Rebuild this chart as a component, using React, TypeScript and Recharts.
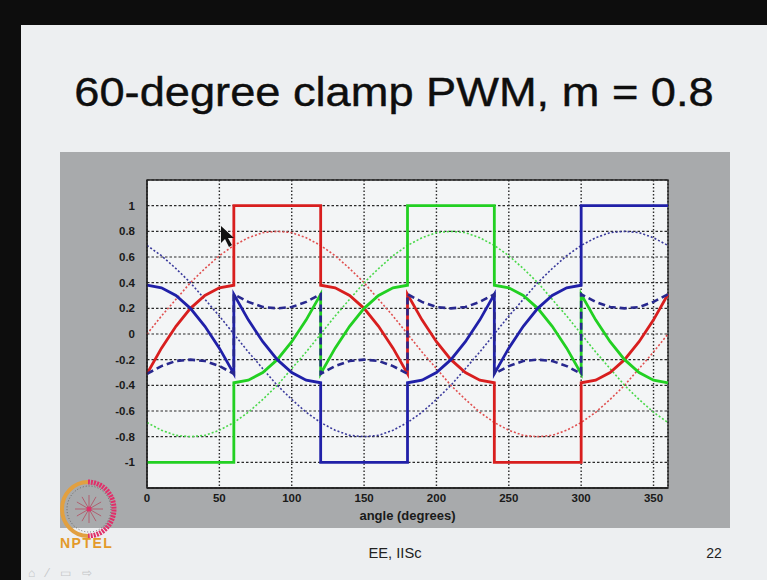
import React from 'react';
import {
  LineChart,
  Line,
  XAxis,
  YAxis,
  CartesianGrid,
  ReferenceArea,
} from 'recharts';

// angle samples, jump points appear twice (value before / after the step)
const angle = [0, 10, 20, 30, 40, 50, 60, 60, 70, 80, 90, 100, 110, 120, 120, 130, 140, 150, 160, 170, 180, 180, 190, 200, 210, 220, 230, 240, 240, 250, 260, 270, 280, 290, 300, 300, 310, 320, 330, 340, 350, 360];

// sine references (thin dotted)
const refA = [0, 0.14, 0.27, 0.4, 0.51, 0.61, 0.69, 0.69, 0.75, 0.79, 0.8, 0.79, 0.75, 0.69, 0.69, 0.61, 0.51, 0.4, 0.27, 0.14, 0, 0, -0.14, -0.27, -0.4, -0.51, -0.61, -0.69, -0.69, -0.75, -0.79, -0.8, -0.79, -0.75, -0.69, -0.69, -0.61, -0.51, -0.4, -0.27, -0.14, 0];
const refB = [-0.69, -0.75, -0.79, -0.8, -0.79, -0.75, -0.69, -0.69, -0.61, -0.51, -0.4, -0.27, -0.14, 0, 0, 0.14, 0.27, 0.4, 0.51, 0.61, 0.69, 0.69, 0.75, 0.79, 0.8, 0.79, 0.75, 0.69, 0.69, 0.61, 0.51, 0.4, 0.27, 0.14, 0, 0, -0.14, -0.27, -0.4, -0.51, -0.61, -0.69];
const refC = [0.69, 0.61, 0.51, 0.4, 0.27, 0.14, 0, 0, -0.14, -0.27, -0.4, -0.51, -0.61, -0.69, -0.69, -0.75, -0.79, -0.8, -0.79, -0.75, -0.69, -0.69, -0.61, -0.51, -0.4, -0.27, -0.14, 0, 0, 0.14, 0.27, 0.4, 0.51, 0.61, 0.69, 0.69, 0.75, 0.79, 0.8, 0.79, 0.75, 0.69];

// common-mode offset (dashed)
const offset = [-0.31, -0.25, -0.21, -0.2, -0.21, -0.25, -0.31, 0.31, 0.25, 0.21, 0.2, 0.21, 0.25, 0.31, -0.31, -0.25, -0.21, -0.2, -0.21, -0.25, -0.31, 0.31, 0.25, 0.21, 0.2, 0.21, 0.25, 0.31, -0.31, -0.25, -0.21, -0.2, -0.21, -0.25, -0.31, 0.31, 0.25, 0.21, 0.2, 0.21, 0.25, 0.31];

// clamped modulating signals (thick)
const modA = [-0.31, -0.11, 0.06, 0.2, 0.3, 0.36, 0.38, 1, 1, 1, 1, 1, 1, 1, 0.38, 0.36, 0.3, 0.2, 0.06, -0.11, -0.31, 0.31, 0.11, -0.06, -0.2, -0.3, -0.36, -0.38, -1, -1, -1, -1, -1, -1, -1, -0.38, -0.36, -0.3, -0.2, -0.06, 0.11, 0.31];
const modB = [-1, -1, -1, -1, -1, -1, -1, -0.38, -0.36, -0.3, -0.2, -0.06, 0.11, 0.31, -0.31, -0.11, 0.06, 0.2, 0.3, 0.36, 0.38, 1, 1, 1, 1, 1, 1, 1, 0.38, 0.36, 0.3, 0.2, 0.06, -0.11, -0.31, 0.31, 0.11, -0.06, -0.2, -0.3, -0.36, -0.38];
const modC = [0.38, 0.36, 0.3, 0.2, 0.06, -0.11, -0.31, 0.31, 0.11, -0.06, -0.2, -0.3, -0.36, -0.38, -1, -1, -1, -1, -1, -1, -1, -0.38, -0.36, -0.3, -0.2, -0.06, 0.11, 0.31, -0.31, -0.11, 0.06, 0.2, 0.3, 0.36, 0.38, 1, 1, 1, 1, 1, 1, 1];

const xTicks = [0, 50, 100, 150, 200, 250, 300, 350];
const yTicks = [-1, -0.8, -0.6, -0.4, -0.2, 0, 0.2, 0.4, 0.6, 0.8, 1];

const data = angle.map((a, i) => ({
  angle: a,
  refA: refA[i],
  refB: refB[i],
  refC: refC[i],
  offset: offset[i],
  modA: modA[i],
  modB: modB[i],
  modC: modC[i],
}));

const font = '"Liberation Sans", Arial, sans-serif';
const tickStyle = { fill: '#1a1a1a', fontSize: 11.5, fontWeight: 700, fontFamily: font };

const RED = '#d81e1e';
const GREEN = '#22d022';
const BLUE = '#2020a8';

export default function App() {
  return (
    <div style={{ position: 'absolute', left: 0, top: 0, width: 767, height: 580, overflow: 'hidden', background: '#edeff1', fontFamily: font }}>
      {/* video frame edges */}
      <div style={{ position: 'absolute', left: 0, top: 0, width: 767, height: 25, background: '#0d0d0d' }} />
      <div style={{ position: 'absolute', left: 0, top: 0, width: 21, height: 580, background: '#0d0d0d' }} />

      <div style={{ position: 'absolute', left: 21, top: 72, width: 746, height: 40, lineHeight: '40px', textAlign: 'center', fontSize: 40, color: '#0e0e0e', transform: 'scaleX(1.13)', WebkitTextStroke: '0.4px #0e0e0e' }}>
        60-degree clamp PWM, m = 0.8
      </div>

      <div style={{ position: 'absolute', left: 60, top: 152, width: 670, height: 376, background: '#a8aaac' }}>
        <LineChart width={670} height={376} data={data} margin={{ top: 28, right: 62, bottom: 0, left: 37 }}>
          <CartesianGrid vertical={false} stroke="#2a2a2a" strokeDasharray="2.5 2" strokeWidth={1.1} fill="#f3f5f6" />
          <CartesianGrid horizontal={false} stroke="#2a2a2a" strokeDasharray="1.5 2" strokeWidth={1.4} />
          <XAxis
            dataKey="angle"
            type="number"
            domain={[0, 360]}
            ticks={xTicks}
            height={40}
            tickLine={false}
            tickMargin={0}
            axisLine={{ stroke: '#222', strokeWidth: 1.3 }}
            tick={tickStyle}
            label={{ value: 'angle (degrees)', position: 'insideBottom', offset: 8, fill: '#1a1a1a', fontSize: 13, fontWeight: 700, fontFamily: font }}
          />
          <YAxis
            type="number"
            domain={[-1.2, 1.2]}
            ticks={yTicks}
            width={50}
            tickLine={false}
            tickMargin={6}
            axisLine={{ stroke: '#222', strokeWidth: 1.3 }}
            tick={tickStyle}
            allowDataOverflow
          />
          <ReferenceArea x1={0} x2={360} y1={-1.2} y2={1.2} fill="none" stroke="#222" strokeWidth={1.3} />

          <Line type="linear" dataKey="refA" stroke="#e05050" strokeWidth={1.6} strokeDasharray="2 2" dot={false} isAnimationActive={false} />
          <Line type="linear" dataKey="refB" stroke="#4ad84a" strokeWidth={1.6} strokeDasharray="2 2" dot={false} isAnimationActive={false} />
          <Line type="linear" dataKey="refC" stroke="#3a3a9c" strokeWidth={1.6} strokeDasharray="2 2" dot={false} isAnimationActive={false} />
          <Line type="linear" dataKey="modA" stroke={RED} strokeWidth={2.8} dot={false} isAnimationActive={false} />
          <Line type="linear" dataKey="modB" stroke={GREEN} strokeWidth={2.8} dot={false} isAnimationActive={false} />
          <Line type="linear" dataKey="modC" stroke={BLUE} strokeWidth={2.8} dot={false} isAnimationActive={false} />
          <Line type="linear" dataKey="offset" stroke="#28288e" strokeWidth={2.6} strokeDasharray="7 4" dot={false} isAnimationActive={false} />
        </LineChart>
      </div>

      {/* mouse pointer left in the video */}
      <svg style={{ position: 'absolute', left: 218, top: 224 }} width={20} height={26}>
        <polygon points="3,2 3,19 7,15 11,23 14,21 10,14 16,14" fill="#111" />
      </svg>

      {/* NPTEL logo */}
      <svg style={{ position: 'absolute', left: 58, top: 478 }} width={62} height={60}>
        <path d="M 30 4 A 26 27 0 0 0 30 58" fill="none" stroke="#e2a040" strokeWidth={4} />
        <path d="M 30 4 A 26 27 0 0 1 30 58" fill="none" stroke="#e0306a" strokeWidth={5} strokeDasharray="2 1" />
        <ellipse cx={31} cy={31} rx={22} ry={23} fill="none" stroke="#555" strokeWidth={0.8} strokeDasharray="1 2" />
        {[0, 30, 60, 90, 120, 150].map((d) => (
          <line key={d} x1={31 - 14 * Math.cos((d * Math.PI) / 180)} y1={31 - 14 * Math.sin((d * Math.PI) / 180)} x2={31 + 14 * Math.cos((d * Math.PI) / 180)} y2={31 + 14 * Math.sin((d * Math.PI) / 180)} stroke="#b06070" strokeWidth={1} />
        ))}
        <circle cx={31} cy={31} r={2.5} fill="#e0306a" />
      </svg>
      <div style={{ position: 'absolute', left: 60, top: 535, fontSize: 14, fontWeight: 700, color: '#e39a2a', letterSpacing: 1.5 }}>NPTEL</div>

      <div style={{ position: 'absolute', left: 345, top: 545, width: 100, textAlign: 'center', fontSize: 14, color: '#222', transform: 'scaleX(1.05)' }}>EE, IISc</div>
      <div style={{ position: 'absolute', left: 694, top: 545, width: 40, textAlign: 'center', fontSize: 14, color: '#222' }}>22</div>

      <div style={{ position: 'absolute', left: 28, top: 566, fontSize: 12, color: '#c4c6c8', letterSpacing: 4 }}>⌂ ⁄ ▭ ⇨</div>
    </div>
  );
}
